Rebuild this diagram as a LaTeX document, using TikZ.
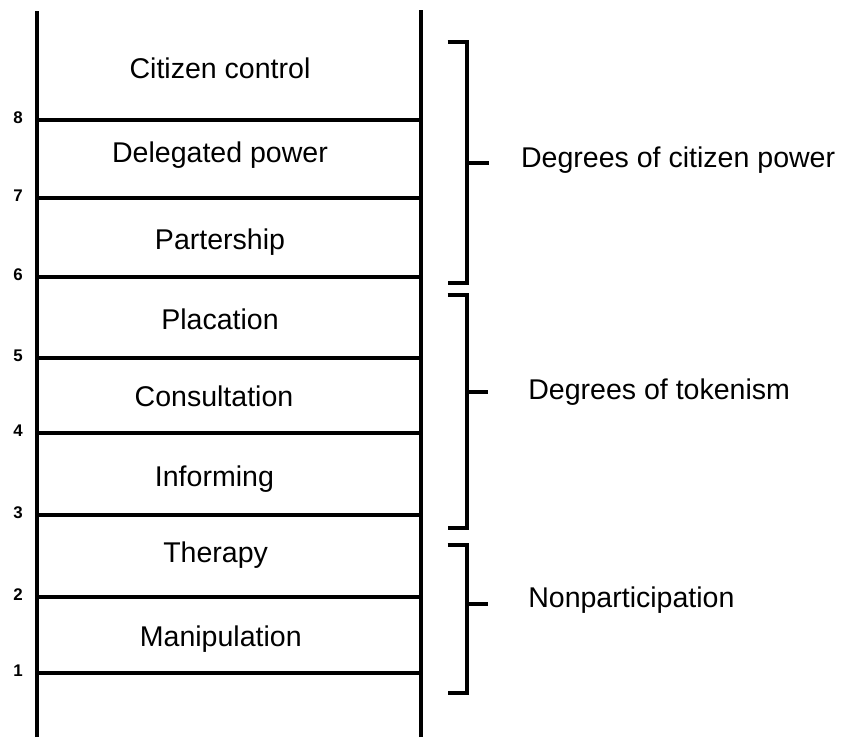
\documentclass[tikz,border=0pt]{standalone}
\usepackage{fontspec}
\setmainfont{Liberation Sans}
\begin{document}
\begin{tikzpicture}[
	rail/.style={line width=3pt},
	rung/.style={line width=2.7pt},
	brace/.style={line width=2.7pt},
	rungtext/.style={anchor=base,font=\fontsize{20.3}{24}\selectfont},
	grouptext/.style={anchor=base west,inner sep=0pt,font=\fontsize{20.3}{24}\selectfont},
	rungnum/.style={font=\fontsize{12}{14}\selectfont\bfseries}]
	\useasboundingbox (0,0) rectangle (21.025,18.425);
	
	% ladder
	\draw[rail] (0.925,0) -- (0.925,18.15);
	\draw[rail] (10.52,0) -- (10.52,18.175);
	
	\foreach \n/\y in {1/1.6,2/3.5,3/5.55,4/7.6,5/9.475,6/11.5,7/13.475,8/15.425} {
		\draw[rung] (0.925,\y) -- (10.52,\y);
		\node[rungnum] (num\n) at (0.45,\y+0.06) {\n};
	}
	
	\node[rungtext] (control) at (5.5,16.46) {Citizen control};
	\node[rungtext] (delegated) at (5.5,14.35) {Delegated power};
	\node[rungtext] (partner) at (5.5,12.175) {Partership};
	\node[rungtext] (placation) at (5.5,10.175) {Placation};
	\node[rungtext] (consult) at (5.35,8.26) {Consultation};
	\node[rungtext] (inform) at (5.36,6.26) {Informing};
	\node[rungtext] (therapy) at (5.39,4.35) {Therapy};
	\node[rungtext] (manip) at (5.52,2.26) {Manipulation};
	
	% groups
	\draw[brace] (11.19,17.375) -- (11.67,17.375) -- (11.67,11.35) -- (11.19,11.35);
	\draw[brace] (11.67,14.35) -- (12.22,14.35);
	\node[grouptext] (power) at (13.02,14.225) {Degrees of citizen power};
	
	\draw[brace] (11.19,11.05) -- (11.67,11.05) -- (11.67,5.225) -- (11.19,5.225);
	\draw[brace] (11.67,8.625) -- (12.2,8.625);
	\node[grouptext] (token) at (13.2,8.425) {Degrees of tokenism};
	
	\draw[brace] (11.19,4.8) -- (11.67,4.8) -- (11.67,1.1) -- (11.19,1.1);
	\draw[brace] (11.67,3.325) -- (12.2,3.325);
	\node[grouptext] (nonpart) at (13.2,3.225) {Nonparticipation};
\end{tikzpicture}
\end{document}
